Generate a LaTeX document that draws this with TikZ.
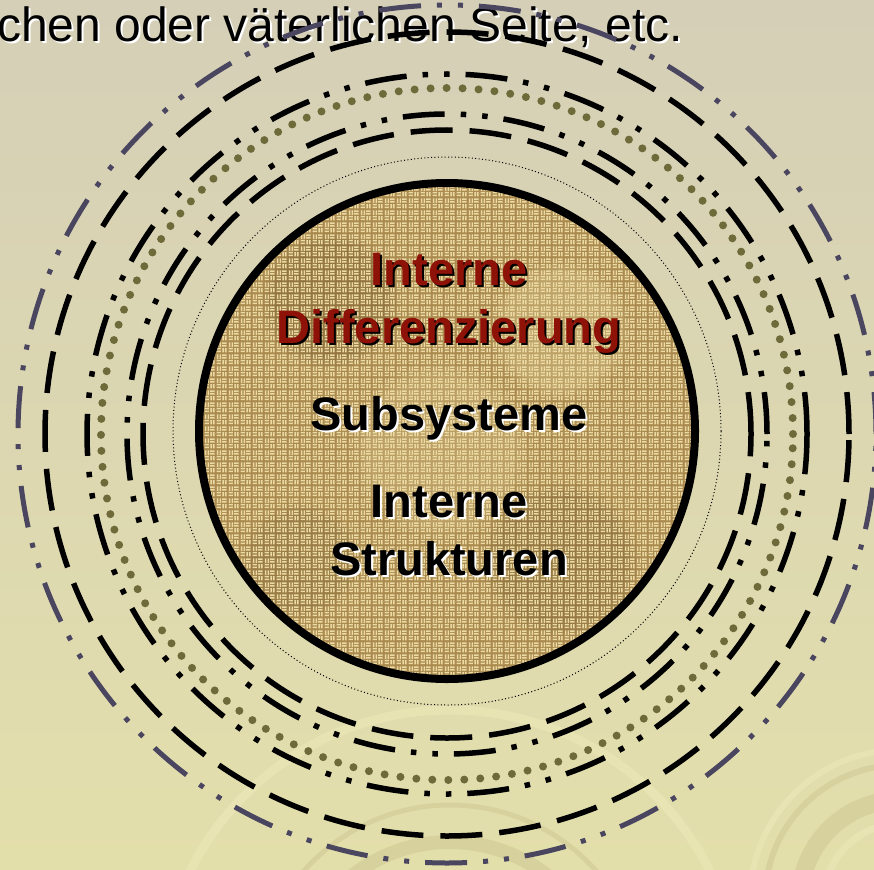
\documentclass[tikz,border=0pt]{standalone}
\usepackage{fontspec}
\setmainfont{Liberation Sans}
\usetikzlibrary{positioning,patterns,fadings}

\definecolor{bgtop}{HTML}{D5CFB7}
\definecolor{bgbot}{HTML}{E3DFAB}
\definecolor{swirldark}{HTML}{D0C995}
\definecolor{swirllight}{HTML}{ECE8B8}
\definecolor{ringgray}{HTML}{4A4660}
\definecolor{dotolive}{HTML}{6E6A3A}
\definecolor{diffred}{HTML}{8E1208}
\definecolor{jute}{HTML}{AA8A4E}
\definecolor{jutethread}{HTML}{EBDAA4}
\definecolor{jutedark}{HTML}{5E4522}

% text with a small offset shadow behind it
\newcommand{\shadowed}[3]{%
  \rlap{\kern2pt\raisebox{-2pt}{\textcolor{#2}{#3}}}\textcolor{#1}{#3}}

% basket weave tile for the jute disc
\pgfdeclarepatternformonly{jute weave}{\pgfpointorigin}{\pgfqpoint{12pt}{12pt}}%
  {\pgfqpoint{12pt}{12pt}}{%
  \pgfpathrectangle{\pgfqpoint{0.6pt}{1pt}}{\pgfqpoint{4.8pt}{1.7pt}}
  \pgfpathrectangle{\pgfqpoint{0.6pt}{3.8pt}}{\pgfqpoint{4.8pt}{1.7pt}}
  \pgfpathrectangle{\pgfqpoint{6.6pt}{7pt}}{\pgfqpoint{4.8pt}{1.7pt}}
  \pgfpathrectangle{\pgfqpoint{6.6pt}{9.8pt}}{\pgfqpoint{4.8pt}{1.7pt}}
  \pgfpathrectangle{\pgfqpoint{7pt}{0.6pt}}{\pgfqpoint{1.7pt}{4.8pt}}
  \pgfpathrectangle{\pgfqpoint{9.8pt}{0.6pt}}{\pgfqpoint{1.7pt}{4.8pt}}
  \pgfpathrectangle{\pgfqpoint{1pt}{6.6pt}}{\pgfqpoint{1.7pt}{4.8pt}}
  \pgfpathrectangle{\pgfqpoint{3.8pt}{6.6pt}}{\pgfqpoint{1.7pt}{4.8pt}}
  \pgfusepath{fill}
}

\begin{document}
\begin{tikzpicture}[
  x=1pt, y=-1pt,
  ring/.style={line width=5.5pt},
  dashring/.style={ring, dash pattern=on 42pt off 17pt},
  dotring/.style={ring, dash pattern=on 42pt off 16pt on 5.5pt off 16pt on 5.5pt off 16pt},
  grayring/.style={line width=5pt, ringgray,
                   dash pattern=on 42pt off 16pt on 5pt off 16pt on 5pt off 16pt},
  beadring/.style={line width=8pt, dotolive, line cap=round,
                   dash pattern=on 0pt off 16pt},
  swirl/.style={line width=#1, opacity=0.6},
  blotch/.style={path fading=circle with fuzzy edge 20 percent, opacity=#1},
  caption/.style={font=\fontsize{48}{56}\selectfont, inner sep=0pt},
  line/.style={font=\fontsize{47}{56}\selectfont\bfseries, inner sep=0pt, anchor=base},
  node distance=58pt
]
\useasboundingbox (0,0) rectangle (874,869);
\clip (0,0) rectangle (874,869);

% Backdrop with its faint swirls.
\shade[top color=bgtop, bottom color=bgbot] (0,0) rectangle (874,869);
\coordinate (swirlA) at (900,900);
\coordinate (swirlB) at (450,1000);
\draw[swirl=6pt, swirllight] (swirlA) circle[radius=150pt];
\draw[swirl=6pt, swirldark] (swirlA) circle[radius=135pt];
\draw[swirl=18pt, swirldark] (swirlA) circle[radius=100pt];
\draw[swirl=7pt, swirllight] (swirlA) circle[radius=76pt];
\draw[swirl=9pt, swirllight] (swirlB) circle[radius=290pt];
\draw[swirl=5pt, swirldark] (swirlB) circle[radius=195pt];
\draw[swirl=14pt, swirldark] (swirlB) circle[radius=158pt];

% Tail of the sentence above.
\node[caption, anchor=base west] (intro) at (-3,42)
  {\shadowed{black}{white}{chen oder väterlichen Seite, etc.}};

% Jute disc in the middle.
\coordinate (core) at (447,431);
\coordinate (hub) at (447,434);
\begin{scope}
  \clip (core) circle[radius=248pt];
  \fill[jute] (core) circle[radius=248pt];
  \fill[jutedark, blotch=0.3] (330,300) circle[radius=70pt];
  \fill[jutedark, blotch=0.25] (560,560) circle[radius=80pt];
  \fill[jutedark, blotch=0.2] (300,560) circle[radius=60pt];
  \fill[jutethread, blotch=0.3] (560,330) circle[radius=70pt];
  \fill[jutethread, blotch=0.25] (440,450) circle[radius=90pt];
  \fill[pattern=jute weave, pattern color=jutethread] (core) circle[radius=248pt];
\end{scope}
\draw[line width=8pt] (core) circle[radius=248pt];
\draw[line width=1pt, dash pattern=on 1pt off 2.4pt] (core) circle[radius=274pt];

% Rings, from the inside out.
\draw[dashring] (hub) circle[radius=304pt];
\draw[dotring] (hub) circle[radius=320pt];
\draw[beadring] (hub) circle[radius=346pt];
\draw[dotring] (hub) circle[radius=360pt];
\draw[dashring] (hub) circle[radius=402pt];
\draw[grayring] (hub) circle[radius=429pt];

% Labels on the disc.
\node[line] (diffA) at (449,285) {\shadowed{diffred}{black}{Interne}};
\node[line, below=of diffA.base, anchor=base] (diffB)
  {\shadowed{diffred}{black}{Differenzierung}};
\node[line, below=87pt of diffB.base, anchor=base] (subsys)
  {\shadowed{black}{white}{Subsysteme}};
\node[line, below=87pt of subsys.base, anchor=base] (strA)
  {\shadowed{black}{white}{Interne}};
\node[line, below=of strA.base, anchor=base] (strB)
  {\shadowed{black}{white}{Strukturen}};
\end{tikzpicture}
\end{document}
